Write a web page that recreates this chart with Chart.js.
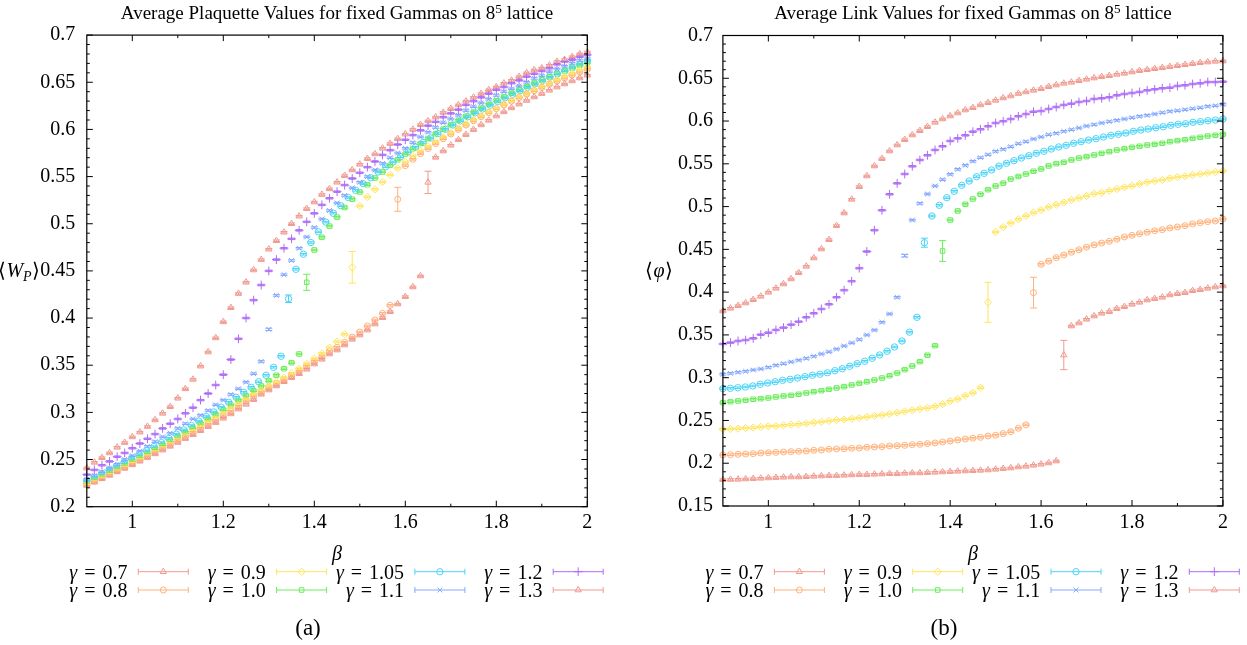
<!DOCTYPE html>
<html>
<head>
<meta charset="utf-8">
<script src="https://cdn.jsdelivr.net/npm/chart.js@4/dist/chart.umd.min.js"></script>
<style>
  html,body{margin:0;padding:0;background:#fff;}
  #wrap{position:relative;width:1247px;height:645px;overflow:hidden;background:#fff;}
  canvas{position:absolute;top:0;}
  .t{position:absolute;transform:translate(-50%,-50%);white-space:nowrap;font-family:"Liberation Serif",serif;color:#000;line-height:1;}
  .r{position:absolute;transform:translate(-100%,-50%);white-space:nowrap;font-family:"Liberation Serif",serif;color:#000;font-size:20px;line-height:1;}
  .eq{margin:0 2px;}
  sup{font-size:70%;vertical-align:0.45em;line-height:0;}
  sub{font-size:70%;vertical-align:-0.25em;line-height:0;}
</style>
</head>
<body>
<div id="wrap">
  <canvas id="c1" width="620" height="645" style="left:0"></canvas>
  <canvas id="c2" width="627" height="645" style="left:620px"></canvas>
  <div class="t" style="left:337px;top:12px;font-size:19px">Average Plaquette Values for fixed Gammas on 8<sup>5</sup> lattice</div>
  <div class="t" style="left:973px;top:12px;font-size:19px">Average Link Values for fixed Gammas on 8<sup>5</sup> lattice</div>
  <div class="t" style="left:19px;top:270px;font-size:20px">⟨<i>W</i><sub><i>P</i></sub>⟩</div>
  <div class="t" style="left:659px;top:270px;font-size:20px">⟨<i>φ</i>⟩</div>
  <div class="t" style="left:337px;top:553px;font-size:20px"><i>β</i></div>
  <div class="t" style="left:973px;top:553px;font-size:20px"><i>β</i></div>
  <div class="t" style="left:308px;top:627px;font-size:23px">(a)</div>
  <div class="t" style="left:944px;top:627px;font-size:23px">(b)</div>
</div>
<script>
// ---------- categories / ticks ----------
const gammas = ['0.7','0.8','0.9','1.0','1.05','1.1','1.2','1.3'];
const xTicks = [1, 1.2, 1.4, 1.6, 1.8, 2];
const xTickLabels = ['1','1.2','1.4','1.6','1.8','2'];
const xMinorTicks = [1.1, 1.3, 1.5, 1.7, 1.9];
const plaqYTicks = [0.2,0.25,0.3,0.35,0.4,0.45,0.5,0.55,0.6,0.65,0.7];
const plaqYLabels = ['0.2','0.25','0.3','0.35','0.4','0.45','0.5','0.55','0.6','0.65','0.7'];
const linkYTicks = [0.15,0.2,0.25,0.3,0.35,0.4,0.45,0.5,0.55,0.6,0.65,0.7];
const linkYLabels = ['0.15','0.2','0.25','0.3','0.35','0.4','0.45','0.5','0.55','0.6','0.65','0.7'];

// beta grids (67 points; the gamma=1.05 runs use 68 points)
const betaGrid = [0.9,0.91667,0.93333,0.95,0.96667,0.98333,1.0,1.01667,1.03333,1.05,1.06667,1.08333,1.1,1.11667,1.13333,1.15,1.16667,1.18333,1.2,1.21667,1.23333,1.25,1.26667,1.28333,1.3,1.31667,1.33333,1.35,1.36667,1.38333,1.4,1.41667,1.43333,1.45,1.46667,1.48333,1.5,1.51667,1.53333,1.55,1.56667,1.58333,1.6,1.61667,1.63333,1.65,1.66667,1.68333,1.7,1.71667,1.73333,1.75,1.76667,1.78333,1.8,1.81667,1.83333,1.85,1.86667,1.88333,1.9,1.91667,1.93333,1.95,1.96667,1.98333,2.0];
const betaGridCyan = [0.9,0.91642,0.93284,0.94925,0.96567,0.98209,0.99851,1.01493,1.03134,1.04776,1.06418,1.0806,1.09701,1.11343,1.12985,1.14627,1.16269,1.1791,1.19552,1.21194,1.22836,1.24478,1.26119,1.27761,1.29403,1.31045,1.32687,1.34328,1.3597,1.37612,1.39254,1.40896,1.42537,1.44179,1.45821,1.47463,1.49104,1.50746,1.52388,1.5403,1.55672,1.57313,1.58955,1.60597,1.62239,1.63881,1.65522,1.67164,1.68806,1.70448,1.7209,1.73731,1.75373,1.77015,1.78657,1.80299,1.8194,1.83582,1.85224,1.86866,1.88507,1.90149,1.91791,1.93433,1.95075,1.96716,1.98358,2.0];

// ---------- plaquette values <W_P> ----------
const plaq07 = [0.2225,0.226,0.2296,0.2332,0.2369,0.2406,0.2444,0.2482,0.2521,0.256,0.26,0.264,0.2681,0.2722,0.2764,0.2806,0.2849,0.2892,0.2938,0.2984,0.3035,0.3085,0.3135,0.3192,0.3237,0.328,0.3325,0.3368,0.341,0.3457,0.3513,0.3563,0.3619,0.3661,0.3714,0.3775,0.382,0.3873,0.3937,0.4004,0.4068,0.4149,0.4227,0.433,0.4446,0.5439,0.5704,0.5771,0.5832,0.589,0.5945,0.5998,0.6048,0.6096,0.6142,0.6186,0.6228,0.6268,0.6307,0.6344,0.638,0.6415,0.6449,0.6482,0.6514,0.6545,0.6575];
const plaq08 = [0.2235,0.2271,0.2308,0.2345,0.2383,0.2421,0.246,0.2499,0.2539,0.2579,0.262,0.2661,0.2703,0.2745,0.2788,0.2831,0.2875,0.2919,0.2964,0.3012,0.3065,0.3122,0.3174,0.3213,0.3262,0.3308,0.3347,0.3389,0.3439,0.3488,0.3541,0.359,0.3647,0.369,0.3743,0.3799,0.3852,0.3916,0.398,0.405,0.4135,0.5259,0.5616,0.5683,0.5743,0.5797,0.585,0.5901,0.5951,0.5999,0.6046,0.6091,0.6135,0.6178,0.622,0.626,0.6299,0.6337,0.6374,0.641,0.6445,0.6479,0.6512,0.6544,0.6576,0.6607,0.6637];
const plaq09 = [0.2245,0.2282,0.232,0.2358,0.2397,0.2436,0.2476,0.2517,0.2558,0.26,0.2642,0.2685,0.2728,0.2772,0.2816,0.2861,0.2906,0.2952,0.2999,0.3046,0.3094,0.3143,0.3192,0.3237,0.328,0.3325,0.3368,0.3414,0.3463,0.3516,0.3569,0.3626,0.3686,0.375,0.3828,0.4538,0.5188,0.5284,0.5365,0.5443,0.5517,0.5588,0.5655,0.5718,0.5771,0.5821,0.587,0.5918,0.5965,0.6011,0.6056,0.61,0.6143,0.6185,0.6226,0.6266,0.6305,0.6344,0.6382,0.6419,0.6455,0.6491,0.6526,0.656,0.6594,0.6627,0.666];
const plaq10 = [0.226,0.2297,0.2334,0.2372,0.2411,0.245,0.249,0.2531,0.2572,0.2614,0.2657,0.2701,0.2745,0.279,0.2836,0.2883,0.293,0.2978,0.3027,0.3077,0.3127,0.3178,0.323,0.328,0.3336,0.3393,0.3463,0.3527,0.3619,0.4379,0.4722,0.4856,0.4975,0.507,0.5172,0.526,0.5337,0.5414,0.5485,0.5549,0.562,0.5679,0.5739,0.5795,0.585,0.5903,0.5954,0.6003,0.605,0.6096,0.614,0.6183,0.6225,0.6266,0.6306,0.6345,0.6383,0.642,0.6456,0.6491,0.6525,0.6558,0.659,0.6621,0.6651,0.668,0.6708];
const plaq105 = [0.2275,0.2313,0.2351,0.239,0.243,0.247,0.2511,0.2552,0.2594,0.2637,0.268,0.2724,0.2769,0.2815,0.2861,0.2908,0.2956,0.3005,0.3055,0.3107,0.316,0.3213,0.3266,0.3325,0.3393,0.3478,0.3595,0.4205,0.4517,0.4676,0.4801,0.4914,0.5017,0.5111,0.5191,0.5278,0.5354,0.5425,0.5488,0.5549,0.5605,0.5655,0.5711,0.5762,0.5812,0.5861,0.5909,0.5956,0.6002,0.6047,0.6091,0.6134,0.6176,0.6217,0.6257,0.6296,0.6335,0.6373,0.641,0.6447,0.6483,0.6519,0.6554,0.6589,0.6623,0.6657,0.669,0.6722];
const plaq11 = [0.229,0.233,0.237,0.241,0.245,0.250,0.254,0.259,0.264,0.269,0.274,0.278,0.283,0.288,0.293,0.297,0.302,0.308,0.313,0.319,0.325,0.332,0.341,0.354,0.388,0.424,0.446,0.461,0.474,0.486,0.496,0.505,0.514,0.522,0.530,0.538,0.544,0.550,0.557,0.564,0.570,0.575,0.580,0.586,0.592,0.597,0.602,0.607,0.611,0.615,0.620,0.624,0.628,0.632,0.636,0.640,0.643,0.646,0.650,0.654,0.657,0.661,0.664,0.667,0.670,0.673,0.675];
const plaq12 = [0.234,0.239,0.244,0.248,0.253,0.257,0.262,0.267,0.272,0.277,0.283,0.288,0.293,0.299,0.305,0.313,0.320,0.329,0.340,0.356,0.378,0.400,0.419,0.435,0.450,0.462,0.474,0.484,0.493,0.502,0.511,0.520,0.527,0.534,0.541,0.548,0.554,0.560,0.566,0.573,0.578,0.584,0.589,0.594,0.599,0.604,0.608,0.613,0.617,0.621,0.626,0.630,0.634,0.638,0.642,0.645,0.649,0.652,0.656,0.659,0.662,0.665,0.669,0.672,0.674,0.677,0.679];
const plaq13 = [0.241,0.247,0.252,0.257,0.263,0.268,0.274,0.279,0.285,0.292,0.299,0.306,0.315,0.325,0.335,0.349,0.364,0.379,0.396,0.411,0.426,0.438,0.451,0.462,0.473,0.482,0.491,0.500,0.508,0.516,0.523,0.531,0.537,0.544,0.551,0.557,0.563,0.569,0.574,0.580,0.585,0.590,0.595,0.600,0.605,0.609,0.613,0.618,0.622,0.626,0.630,0.634,0.638,0.642,0.645,0.649,0.652,0.656,0.660,0.663,0.665,0.668,0.672,0.674,0.677,0.680,0.682];
// visible error bars (index of point, half-width); other points carry a tiny error
const plaqErrIdx = [45, 41, 35, 29, 27, 24, -1, -1];
const plaqErrVal = [0.0118, 0.0127, 0.0168, 0.0085, 0.004, 0.0012, 0, 0];
const plaqSmallErr = 0.0008;

// ---------- link values <phi> ----------
const link07 = [0.1808,0.181,0.1812,0.1816,0.182,0.1824,0.1828,0.1832,0.1836,0.1839,0.1839,0.1843,0.1847,0.1851,0.1855,0.1855,0.1859,0.1863,0.1867,0.1867,0.1871,0.1874,0.1878,0.1878,0.1882,0.1886,0.1886,0.189,0.1894,0.1898,0.1902,0.1906,0.191,0.1913,0.1917,0.1921,0.1929,0.1937,0.1944,0.1956,0.1964,0.1976,0.1988,0.2003,0.2026,0.3265,0.3604,0.3639,0.3683,0.3721,0.3753,0.3772,0.3807,0.383,0.3858,0.3881,0.3908,0.3924,0.394,0.3967,0.3982,0.3994,0.4017,0.4029,0.4045,0.406,0.4072];
const link08 = [0.2096,0.21,0.2104,0.2108,0.2112,0.212,0.2123,0.2127,0.2131,0.2135,0.2139,0.2143,0.2151,0.2155,0.2163,0.2167,0.217,0.2174,0.2178,0.2186,0.219,0.2194,0.2202,0.2205,0.2209,0.2217,0.2221,0.2229,0.2237,0.2248,0.226,0.2272,0.2283,0.2292,0.2303,0.2318,0.2327,0.2346,0.2369,0.2409,0.2449,0.3994,0.4325,0.4362,0.4403,0.4434,0.4466,0.4496,0.4526,0.4553,0.4574,0.4594,0.4618,0.4645,0.4664,0.4683,0.47,0.4718,0.473,0.475,0.4762,0.4777,0.4797,0.4812,0.4824,0.4832,0.4855];
const link09 = [0.2397,0.24,0.2404,0.2412,0.2416,0.2424,0.2432,0.2435,0.2443,0.2451,0.2455,0.2465,0.2475,0.2484,0.2494,0.2503,0.2511,0.2519,0.2529,0.2541,0.2552,0.2564,0.2575,0.2591,0.2605,0.262,0.2636,0.2647,0.2665,0.269,0.2725,0.275,0.279,0.2823,0.2883,0.3881,0.4703,0.476,0.4808,0.4851,0.4892,0.4929,0.496,0.4994,0.5022,0.5048,0.5077,0.51,0.5124,0.5151,0.5162,0.5186,0.5206,0.5225,0.5244,0.5264,0.5284,0.5299,0.5311,0.5331,0.5346,0.5354,0.5369,0.5381,0.5393,0.5404,0.5416];
const link10 = [0.2708,0.272,0.2728,0.2736,0.2748,0.2755,0.2763,0.2775,0.2786,0.2794,0.2806,0.2821,0.2836,0.2848,0.2864,0.288,0.2895,0.2915,0.2934,0.2953,0.2973,0.2996,0.3023,0.3055,0.3094,0.3137,0.3187,0.3262,0.3374,0.4481,0.4843,0.4949,0.5027,0.5089,0.5144,0.5198,0.5241,0.5274,0.5322,0.5352,0.5381,0.5413,0.544,0.5475,0.5502,0.5518,0.5545,0.5568,0.5584,0.5603,0.5623,0.5642,0.5662,0.5677,0.5693,0.5705,0.572,0.5728,0.574,0.5759,0.5771,0.5782,0.5798,0.581,0.5825,0.5833,0.5845];
const link105 = [0.2872,0.2876,0.2883,0.2891,0.2903,0.2923,0.2938,0.2953,0.2969,0.2981,0.2996,0.3012,0.3028,0.304,0.3058,0.3082,0.3105,0.3133,0.3164,0.3192,0.3227,0.3265,0.3309,0.3359,0.3429,0.3532,0.3706,0.4578,0.489,0.5015,0.5104,0.5179,0.5249,0.5299,0.535,0.5389,0.5428,0.5473,0.5506,0.5537,0.5568,0.5595,0.5623,0.5646,0.5673,0.5697,0.5716,0.574,0.5759,0.5778,0.5794,0.5814,0.5833,0.5845,0.586,0.588,0.5895,0.5907,0.5922,0.5934,0.595,0.5962,0.5969,0.5985,0.5993,0.6004,0.6012,0.6024];
const link11 = [0.304,0.3051,0.3063,0.3075,0.309,0.3102,0.3121,0.3145,0.3164,0.3184,0.3205,0.3225,0.325,0.3277,0.3302,0.3334,0.3371,0.3407,0.3446,0.3499,0.3556,0.3648,0.3745,0.394,0.4426,0.4842,0.5037,0.5147,0.5241,0.5315,0.5378,0.5436,0.5483,0.553,0.5572,0.5607,0.5646,0.567,0.57,0.5735,0.5759,0.579,0.5814,0.584,0.5857,0.588,0.5899,0.5919,0.5942,0.5958,0.5977,0.5993,0.6009,0.6024,0.6039,0.6055,0.6067,0.6082,0.6098,0.6113,0.6121,0.6133,0.6144,0.6156,0.6172,0.6179,0.6195];
const link12 = [0.3394,0.341,0.3429,0.344,0.346,0.3503,0.3526,0.3558,0.3585,0.362,0.3655,0.3706,0.3753,0.3803,0.3858,0.394,0.4023,0.4128,0.428,0.4475,0.4724,0.4957,0.5144,0.5272,0.5381,0.5471,0.5545,0.56,0.5662,0.5705,0.5767,0.5798,0.5833,0.5876,0.5904,0.5939,0.5977,0.5998,0.6024,0.6056,0.6082,0.6109,0.6117,0.6141,0.6164,0.6188,0.6203,0.6223,0.6234,0.6258,0.6266,0.6278,0.6301,0.6316,0.6328,0.634,0.6359,0.6371,0.6383,0.639,0.641,0.6418,0.6433,0.6441,0.6456,0.6456,0.646];
const link13 = [0.378,0.3811,0.3842,0.3873,0.3912,0.3951,0.3998,0.4045,0.4095,0.4154,0.4227,0.4302,0.4399,0.4504,0.4613,0.4777,0.4925,0.5085,0.5233,0.5358,0.5475,0.556,0.565,0.572,0.5782,0.5837,0.5887,0.5934,0.5985,0.6024,0.6059,0.6094,0.6129,0.6156,0.6188,0.6215,0.6242,0.627,0.6293,0.6322,0.634,0.6359,0.6378,0.6402,0.6421,0.6441,0.6453,0.6472,0.6488,0.6503,0.6518,0.653,0.6546,0.6558,0.6573,0.6589,0.66,0.6612,0.6624,0.6636,0.6647,0.6659,0.6671,0.6682,0.669,0.6698,0.6702];
const linkErrIdx = [45, 41, 35, 29, 27, 24, -1, -1];
const linkErrVal = [0.0171, 0.018, 0.0234, 0.0121, 0.0053, 0.0015, 0, 0];
const linkSmallErr = 0.0009;

// ---------- styles ----------
const colors = ['#f09a90','#ffb27c','#ffe45a','#6cec5c','#4cd4f8','#84a8ff','#ae6cf6','#f09a90'];
const markers = ['triangle','circle','rectRot','rect','circle','crossRot','cross','triangle'];
const radii = [3.6, 3.0, 3.6, 3.2, 3.2, 3.4, 4.4, 3.6];

function buildDatasets(series, errIdx, errVal, smallErr) {
  return gammas.map((g, i) => {
    const xs = (i === 4) ? betaGridCyan : betaGrid;
    const ys = series[i];
    return {
      label: '\u03b3 = ' + g,
      data: ys.map((v, k) => ({x: xs[k], y: v})),
      errors: ys.map((v, k) => (k === errIdx[i] ? errVal[i] : smallErr)),
      showLine: false,
      pointStyle: markers[i],
      pointRadius: radii[i],
      pointHoverRadius: radii[i],
      pointBorderWidth: 1,
      borderColor: colors[i],
      backgroundColor: 'rgba(0,0,0,0)',
      clip: false
    };
  });
}

const decor = {
  id: 'decor',
  afterDatasetsDraw(chart) {
    const ctx = chart.ctx, ys = chart.scales.y;
    ctx.save();
    ctx.lineWidth = 1;
    chart.data.datasets.forEach((ds, i) => {
      const meta = chart.getDatasetMeta(i);
      ctx.strokeStyle = ds.borderColor;
      meta.data.forEach((el, k) => {
        const v = ds.data[k].y, e = ds.errors[k];
        const y1 = ys.getPixelForValue(v - e), y2 = ys.getPixelForValue(v + e);
        const x = el.x, hw = 3.5;
        ctx.beginPath();
        ctx.moveTo(x, y1); ctx.lineTo(x, y2);
        ctx.moveTo(x - hw, y1); ctx.lineTo(x + hw, y1);
        ctx.moveTo(x - hw, y2); ctx.lineTo(x + hw, y2);
        ctx.stroke();
      });
    });
    ctx.restore();
  },
  afterDraw(chart) {
    const ctx = chart.ctx, a = chart.chartArea, xs = chart.scales.x, ys = chart.scales.y;
    const opt = chart.options.plugins.decor;
    ctx.save();
    ctx.strokeStyle = '#000';
    ctx.lineWidth = 1.2;
    ctx.strokeRect(a.left, a.top, a.right - a.left, a.bottom - a.top);
    ctx.lineWidth = 1;
    ctx.beginPath();
    const tickX = (vals, len) => vals.forEach(v => {
      const p = xs.getPixelForValue(v);
      ctx.moveTo(p, a.bottom); ctx.lineTo(p, a.bottom - len);
      ctx.moveTo(p, a.top); ctx.lineTo(p, a.top + len);
    });
    const tickY = (vals, len) => vals.forEach(v => {
      const p = ys.getPixelForValue(v);
      ctx.moveTo(a.left, p); ctx.lineTo(a.left + len, p);
      ctx.moveTo(a.right, p); ctx.lineTo(a.right - len, p);
    });
    tickX(xTicks, 6); tickX(xMinorTicks, 3);
    tickY(opt.yMajor, 6); tickY(opt.yMinor, 3);
    ctx.stroke();
    // legend samples
    chart.data.datasets.forEach((ds, i) => {
      const col = Math.floor(i / 2), row = i % 2;
      const x0 = a.left + 51.5 + col * 138.3, x1 = x0 + 50;
      const y = row === 0 ? 571.7 : 590;
      ctx.strokeStyle = ds.borderColor;
      ctx.fillStyle = 'rgba(0,0,0,0)';
      ctx.lineWidth = 1;
      ctx.beginPath();
      ctx.moveTo(x0, y); ctx.lineTo(x1, y);
      ctx.moveTo(x0, y - 3); ctx.lineTo(x0, y + 3);
      ctx.moveTo(x1, y - 3); ctx.lineTo(x1, y + 3);
      ctx.stroke();
      Chart.helpers.drawPoint(ctx, {pointStyle: ds.pointStyle, radius: ds.pointRadius, borderWidth: 1, rotation: 0}, (x0 + x1) / 2, y);
    });
    ctx.restore();
  }
};

function minorList(lo, hi, majors) {
  const out = [];
  for (let t = Math.round(lo * 100); t <= Math.round(hi * 100); t++) {
    const v = t / 100;
    if (!majors.some(m => Math.abs(m - v) < 1e-6)) out.push(v);
  }
  return out;
}

function makeChart(id, datasets, yMin, yMax, yTicks, yLabels, pad) {
  return new Chart(document.getElementById(id), {
    type: 'scatter',
    data: {datasets},
    options: {
      responsive: false,
      animation: false,
      events: [],
      layout: {padding: pad.layout},
      plugins: {
        legend: {display: false},
        tooltip: {enabled: false},
        decor: {yMajor: yTicks, yMinor: minorList(yMin, yMax, yTicks)}
      },
      scales: {
        x: {
          type: 'linear', min: 0.9, max: 2.0,
          grid: {display: false, drawTicks: false},
          border: {display: false},
          afterBuildTicks: s => { s.ticks = xTicks.map(v => ({value: v})); },
          afterFit: s => { s.height = 30; },
          ticks: {
            padding: 4.5, color: '#000', maxRotation: 0, autoSkip: false,
            font: {family: 'Liberation Serif', size: 20},
            callback: (v) => { const i = xTicks.findIndex(t => Math.abs(t - v) < 1e-6); return i >= 0 ? xTickLabels[i] : ''; }
          }
        },
        y: {
          type: 'linear', min: yMin, max: yMax,
          grid: {display: false, drawTicks: false},
          border: {display: false},
          afterBuildTicks: s => { s.ticks = yTicks.map(v => ({value: v})); },
          afterFit: s => { s.width = pad.yWidth; },
          ticks: {
            padding: pad.yPad, color: '#000', autoSkip: false,
            font: {family: 'Liberation Serif', size: 20},
            callback: (v) => { const i = yTicks.findIndex(t => Math.abs(t - v) < 1e-6); return i >= 0 ? yLabels[i] : ''; }
          }
        }
      }
    },
    plugins: [decor]
  });
}

const plaqSeries = [plaq07, plaq08, plaq09, plaq10, plaq105, plaq11, plaq12, plaq13];
const linkSeries = [link07, link08, link09, link10, link105, link11, link12, link13];

makeChart('c1', buildDatasets(plaqSeries, plaqErrIdx, plaqErrVal, plaqSmallErr), 0.2, 0.7, plaqYTicks, plaqYLabels,
  {layout: {left: 0, top: 35.1, right: 620 - 587.3, bottom: 645 - 506.7 - 30}, yWidth: 86.8, yPad: 11.5});
makeChart('c2', buildDatasets(linkSeries, linkErrIdx, linkErrVal, linkSmallErr), 0.15, 0.7, linkYTicks, linkYLabels,
  {layout: {left: 0, top: 35.5, right: 627 - 602.9, bottom: 645 - 506 - 30}, yWidth: 102.9, yPad: 10});

// legend texts
const wrap = document.getElementById('wrap');
[0, 636.1].forEach(off => {
  gammas.forEach((g, i) => {
    const col = Math.floor(i / 2), row = i % 2;
    const d = document.createElement('div');
    d.className = 'r';
    d.style.left = (off + 127.5 + col * 138.3) + 'px';
    d.style.top = (row === 0 ? 571.7 : 590) + 'px';
    d.innerHTML = '<i>\u03b3</i> <span class="eq">=</span> ' + g;
    wrap.appendChild(d);
  });
});
</script>
</body>
</html>
